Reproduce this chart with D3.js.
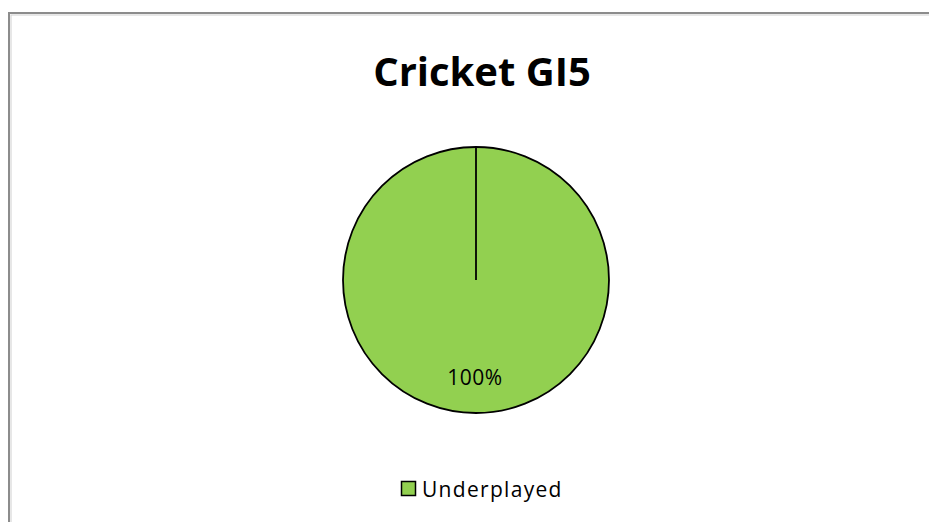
<!DOCTYPE html>
<html>
<head>
<meta charset="utf-8">
<script src="https://cdn.jsdelivr.net/npm/d3@7"></script>
<style>
  body { margin: 0; background: #fff; }
  svg { display: block; }
  text { font-family: "Open Sans", sans-serif; }
</style>
</head>
<body>
<div id="chart"></div>
<script>
// chart data
const title = "Cricket GI5";
const categories = ["Underplayed"];
const values = [100];
const colors = ["#92D050"];

const width = 929, height = 522;

const svg = d3.select("#chart").append("svg")
    .attr("width", width)
    .attr("height", height);

// outer frame (runs off right/bottom edge)
svg.append("rect")
    .attr("x", 9)
    .attr("y", 13)
    .attr("width", width + 20)
    .attr("height", height + 20)
    .attr("fill", "#fff")
    .attr("stroke", "#8c8c8c")
    .attr("stroke-width", 2);
svg.append("rect")
    .attr("x", 11)
    .attr("y", 15)
    .attr("width", width + 20)
    .attr("height", height + 20)
    .attr("fill", "none")
    .attr("stroke", "#d0d0d0")
    .attr("stroke-width", 1);

// title
svg.append("text")
    .attr("x", 482)
    .attr("y", 86)
    .attr("text-anchor", "middle")
    .style("font-size", "40px")
    .style("font-weight", "bold")
    .text(title);

// pie
const cx = 476, cy = 280, r = 133;
const total = d3.sum(values);
const pie = d3.pie().sort(null)(values);
const arc = d3.arc().innerRadius(0).outerRadius(r);

const g = svg.append("g").attr("transform", `translate(${cx},${cy})`);

g.selectAll("path.slice")
    .data(pie)
    .enter()
    .append("path")
    .attr("class", "slice")
    .attr("d", arc)
    .attr("fill", (d, i) => colors[i])
    .attr("stroke", "#000")
    .attr("stroke-width", 1.8);

// slice edge line from center to start angle (single 100% slice)
g.selectAll("line.edge")
    .data(pie)
    .enter()
    .append("line")
    .attr("class", "edge")
    .attr("x1", 0).attr("y1", 0)
    .attr("x2", d => r * Math.sin(d.startAngle))
    .attr("y2", d => -r * Math.cos(d.startAngle))
    .attr("stroke", "#000")
    .attr("stroke-width", 1.8);

// data labels
const fmt = d3.format(".0%");
g.selectAll("text.lbl")
    .data(pie)
    .enter()
    .append("text")
    .attr("class", "lbl")
    .attr("x", d => {
        const a = (d.startAngle + d.endAngle) / 2;
        return r * 0.75 * Math.sin(a) - 1;
    })
    .attr("y", d => {
        const a = (d.startAngle + d.endAngle) / 2;
        return -r * 0.75 * Math.cos(a) + 5;
    })
    .attr("text-anchor", "middle")
    .style("font-size", "21px")
    .style("letter-spacing", "0.5px")
    .text(d => fmt(d.value / total));

// legend
const legend = svg.append("g").attr("transform", "translate(401,481)");
legend.selectAll("rect")
    .data(categories)
    .enter()
    .append("rect")
    .attr("x", 0.5).attr("y", 0.5)
    .attr("width", 14).attr("height", 14)
    .attr("fill", (d, i) => colors[i])
    .attr("stroke", "#000")
    .attr("stroke-width", 1.5);
legend.selectAll("text")
    .data(categories)
    .enter()
    .append("text")
    .attr("x", 21)
    .attr("y", 16)
    .style("font-size", "21px")
    .style("letter-spacing", "1.3px")
    .text(d => d);
</script>
</body>
</html>
